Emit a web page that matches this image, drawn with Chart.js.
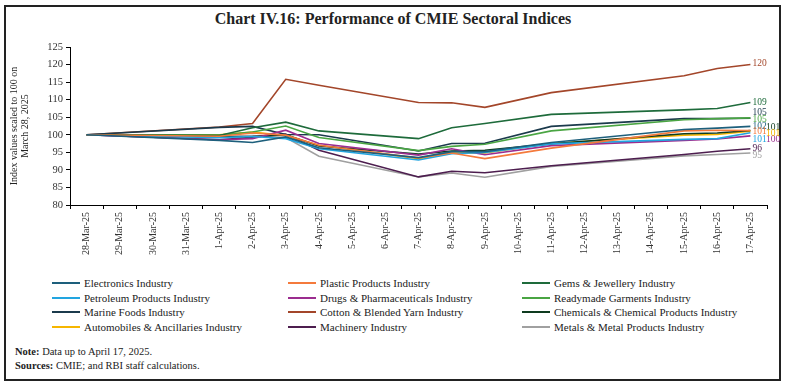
<!DOCTYPE html>
<html lang="en">
<head>
<meta charset="UTF-8">
<title>Chart IV.16: Performance of CMIE Sectoral Indices</title>
<script src="https://cdn.jsdelivr.net/npm/chart.js"></script>
<style>
  body { margin: 0; width: 786px; height: 387px; background: #fff; position: relative; overflow: hidden;
         font-family: "Liberation Serif", serif; color: #222; }
  .frame { position: absolute; left: 4px; top: 5px; width: 773px; height: 372px; border: 2px solid #222; }
  .title { position: absolute; left: 0; top: 10px; width: 786px; text-align: center; font-size: 16px; font-weight: bold; }
  #wrap { position: absolute; left: 0; top: 35px; width: 786px; height: 225px; }
  .item { position: absolute; font-size: 11px; height: 14px; line-height: 14px; white-space: nowrap; }
  .swatch { display: inline-block; width: 28px; height: 2px; vertical-align: middle; margin-right: 4px; position: relative; top: -1px; }
  .notes { position: absolute; left: 15px; top: 345px; font-size: 10.5px; line-height: 14px; }
</style>
</head>
<body>
<div class="frame"></div>
<div class="title">Chart IV.16: Performance of CMIE Sectoral Indices</div>
<div id="wrap"><canvas id="chart"></canvas></div>
<div id="legend"></div>
<div class="notes"><b>Note:</b> Data up to April 17, 2025.<br><b>Sources:</b> CMIE; and RBI staff calculations.</div>
<script>
// all calendar days on the axis
const dates = ['28-Mar-25', '29-Mar-25', '30-Mar-25', '31-Mar-25', '1-Apr-25', '2-Apr-25', '3-Apr-25',
  '4-Apr-25', '5-Apr-25', '6-Apr-25', '7-Apr-25', '8-Apr-25', '9-Apr-25', '10-Apr-25', '11-Apr-25',
  '12-Apr-25', '13-Apr-25', '14-Apr-25', '15-Apr-25', '16-Apr-25', '17-Apr-25'];
// days with data (lines run straight across holidays / weekends)
const tradingDays = ['28-Mar-25', '1-Apr-25', '2-Apr-25', '3-Apr-25', '4-Apr-25', '7-Apr-25',
  '8-Apr-25', '9-Apr-25', '11-Apr-25', '15-Apr-25', '16-Apr-25', '17-Apr-25'];

const electronics = [100, 98.4, 97.8, 99.4, 96.3, 93.5, 95.2, 95.2, 97.8, 101.5, 101.9, 102.4];
const plastic     = [100, 99.6, 100.5, 99.9, 97.0, 93.4, 94.8, 93.2, 96.2, 101.1, 101.3, 101.2];
const gems        = [100, 99.8, 102.0, 103.6, 101.1, 98.9, 102.0, 103.2, 105.8, 107.1, 107.5, 109.2];
const petroleum   = [100, 99.2, 99.5, 98.9, 96.0, 92.8, 94.6, 95.0, 97.4, 98.7, 98.9, 100.6];
const drugs       = [100, 98.6, 98.9, 101.3, 97.5, 94.2, 96.0, 94.3, 96.9, 98.4, 98.8, 99.7];
const readymade   = [100, 99.9, 100.8, 102.5, 99.2, 95.5, 96.7, 97.3, 101.1, 104.3, 104.6, 104.8];
const marine      = [100, 102.1, 102.4, 100.1, 100.0, 95.4, 97.5, 97.6, 102.4, 104.6, 104.6, 104.7];
const cotton      = [100, 102.2, 103.2, 115.8, 114.1, 109.2, 109.1, 107.8, 112.0, 116.8, 118.9, 120.0];
const chemicals   = [100, 99.4, 99.5, 100.0, 96.8, 94.5, 95.4, 95.6, 97.4, 100.3, 100.5, 101.2];
const autos       = [100, 100.0, 100.8, 99.8, 97.0, 93.2, 94.8, 94.8, 97.5, 99.9, 100.1, 101.0];
const machinery   = [100, 98.6, 99.3, 100.2, 95.6, 88.0, 89.6, 89.2, 91.2, 94.4, 95.3, 96.0];
const metals      = [100, 99.6, 99.8, 99.2, 93.9, 88.0, 89.1, 87.9, 91.0, 94.0, 94.4, 94.8];

const seriesNames = ['Electronics Industry', 'Plastic Products Industry', 'Gems & Jewellery Industry',
  'Petroleum Products Industry', 'Drugs & Pharmaceuticals Industry', 'Readymade Garments Industry',
  'Marine Foods Industry', 'Cotton & Blended Yarn Industry', 'Chemicals & Chemical Products Industry',
  'Automobiles & Ancillaries Industry', 'Machinery Industry', 'Metals & Metal Products Industry'];
const seriesValues = [electronics, plastic, gems, petroleum, drugs, readymade, marine, cotton, chemicals, autos, machinery, metals];
const colors = ['#1d5f7c', '#f47a3c', '#1e6b3b', '#22a5e0', '#9b2d8f', '#4aa543',
  '#1b3a4c', '#a3462a', '#0e3b1f', '#f6b600', '#4d1e4f', '#a0a0a0'];
// nudges for the end-of-line value labels so they don't overlap
const labelNudge = [[0, 0], [0, 1], [0, 0], [0, 6.5], [13.5, 4], [0, 1.5],
  [0, -6], [0, -1], [13.5, -3], [13.5, 2], [0, 0], [0, 2]];

const serif = '"Liberation Serif", serif';

const endLabels = {
  id: 'endLabels',
  afterDatasetsDraw(chart) {
    const ctx = chart.ctx;
    ctx.save();
    ctx.font = '9.5px ' + serif;
    ctx.textBaseline = 'middle';
    ctx.textAlign = 'left';
    chart.data.datasets.forEach((ds, i) => {
      const meta = chart.getDatasetMeta(i);
      const pt = meta.data[meta.data.length - 1];
      const last = ds.data[ds.data.length - 1].y;
      ctx.fillStyle = ds.borderColor;
      ctx.fillText(Math.round(last), pt.x + 2 + labelNudge[i][0], pt.y + labelNudge[i][1]);
    });
    ctx.restore();
  }
};

const datasets = seriesNames.map((name, i) => ({
  label: name,
  data: tradingDays.map((d, j) => ({ x: d, y: seriesValues[i][j] })),
  borderColor: colors[i],
  backgroundColor: colors[i],
  borderWidth: 1.6,
  pointRadius: 0,
  tension: 0,
  fill: false
}));

const chart = new Chart(document.getElementById('chart'), {
  type: 'line',
  data: { labels: dates, datasets: datasets },
  options: {
    responsive: true,
    maintainAspectRatio: false,
    animation: false,
    layout: { padding: { top: 12, right: 19, left: 0, bottom: 0 } },
    plugins: { legend: { display: false }, tooltip: { enabled: false } },
    scales: {
      x: {
        offset: true,
        grid: { offset: true, drawOnChartArea: false, tickLength: 4, tickColor: '#000' },
        border: { color: '#000', width: 1 },
        ticks: { autoSkip: false, minRotation: 90, maxRotation: 90, padding: 3, color: '#333', font: { family: serif, size: 10 } },
        afterFit: s => { s.height = 55; }
      },
      y: {
        min: 80, max: 125,
        grid: { drawOnChartArea: false, tickLength: 4, tickColor: '#000' },
        border: { color: '#000', width: 1 },
        ticks: { stepSize: 5, padding: 3, color: '#333', font: { family: serif, size: 10.5 } },
        title: { display: true, text: ['Index values scaled to 100 on', 'March 28, 2025'], color: '#222',
                 font: { family: serif, size: 10, lineHeight: 1.1 }, padding: { top: 9, bottom: 0 } },
        afterFit: s => { s.width = 70; }
      }
    }
  },
  plugins: [endLabels]
});

// legend in three fixed columns, row by row
const legend = document.getElementById('legend');
const colLeft = [52, 288, 522];
const rowTop = [276, 290.5, 305, 319.5];
datasets.forEach((ds, i) => {
  const el = document.createElement('div');
  el.className = 'item';
  el.style.left = colLeft[i % 3] + 'px';
  el.style.top = rowTop[Math.floor(i / 3)] + 'px';
  el.innerHTML = '<span class="swatch" style="background:' + ds.borderColor + '"></span>';
  el.appendChild(document.createTextNode(ds.label));
  legend.appendChild(el);
});
</script>
</body>
</html>
